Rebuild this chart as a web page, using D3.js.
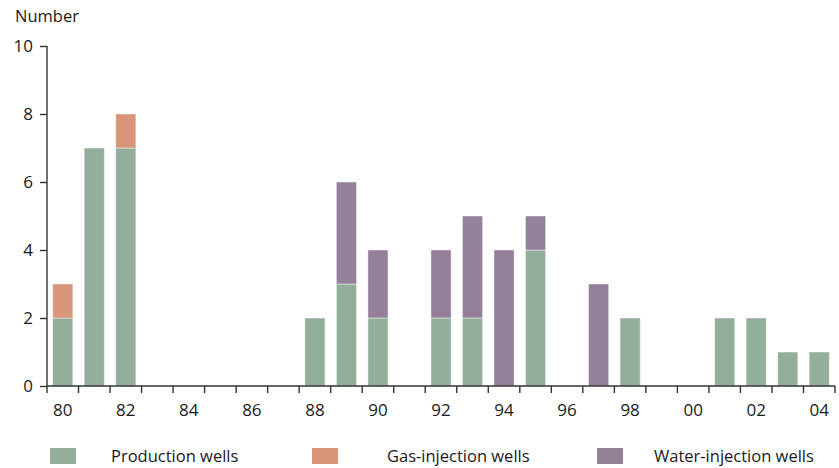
<!DOCTYPE html>
<html>
<head>
<meta charset="utf-8">
<script src="https://cdn.jsdelivr.net/npm/d3@7"></script>
<style>
  body { margin: 0; background: #fff; }
  svg text { font-family: "Open Sans", "Noto Sans", sans-serif; fill: #1a1a1a; }
</style>
</head>
<body>
<div id="chart"></div>
<script>
// years 1980..2004, labels shown every second year
var years = ["80","81","82","83","84","85","86","87","88","89","90","91","92","93","94","95","96","97","98","99","00","01","02","03","04"];
var production = [2, 7, 7, 0, 0, 0, 0, 0, 2, 3, 2, 0, 2, 2, 0, 4, 0, 0, 2, 0, 0, 2, 2, 1, 1];
var gasInjection = [1, 0, 1, 0, 0, 0, 0, 0, 0, 0, 0, 0, 0, 0, 0, 0, 0, 0, 0, 0, 0, 0, 0, 0, 0];
var waterInjection = [0, 0, 0, 0, 0, 0, 0, 0, 0, 3, 2, 0, 2, 3, 4, 1, 0, 3, 0, 0, 0, 0, 0, 0, 0];
var seriesNames = ["Production wells", "Gas-injection wells", "Water-injection wells"];
var seriesColors = ["#93af9b", "#d9957a", "#958099"];
var yTicks = [0, 2, 4, 6, 8, 10];

var width = 839, height = 468;
var plot = { left: 47, right: 835, top: 46, bottom: 386 };

var rows = years.map(function (y, i) {
    return { year: y, p: production[i], g: gasInjection[i], w: waterInjection[i] };
});
var stack = d3.stack().keys(["p", "g", "w"])(rows);

var x = d3.scaleBand().domain(years).range([plot.left, plot.right]).paddingInner(0.36).paddingOuter(0.18);
var xTicks = d3.scaleBand().domain(years).range([plot.left, plot.right]);
var y = d3.scaleLinear().domain([0, 10]).range([plot.bottom, plot.top]);

var svg = d3.select("#chart").append("svg")
    .attr("width", width)
    .attr("height", height);

svg.append("text")
    .attr("x", 15)
    .attr("y", 22)
    .attr("font-size", 16.5)
    .text("Number");

// bars
svg.append("g")
    .selectAll("g")
    .data(stack)
    .join("g")
    .attr("fill", (d, i) => seriesColors[i])
    .selectAll("rect")
    .data(d => d.filter(s => s[1] > s[0]))
    .join("rect")
    .attr("x", d => x(d.data.year))
    .attr("width", x.bandwidth())
    .attr("y", d => y(d[1]))
    .attr("height", d => y(d[0]) - y(d[1]))
    .attr("stroke", "rgba(255,255,255,0.45)")
    .attr("stroke-width", 1);

// y axis
var yAxis = svg.append("g")
    .attr("transform", "translate(" + plot.left + ",0)")
    .call(d3.axisLeft(y).tickValues(yTicks).tickSize(7).tickPadding(7).tickFormat(d3.format("d")));
yAxis.selectAll("text").attr("font-size", 17).attr("font-family", null);
yAxis.selectAll("line, path").attr("stroke", "#333").attr("stroke-width", 1.4);
yAxis.select("path").attr("d", "M0," + plot.top + "V" + plot.bottom);

// x axis: ticks at band boundaries, labels every second year
var xg = svg.append("g").attr("transform", "translate(0," + plot.bottom + ")");
xg.append("line")
    .attr("x1", plot.left).attr("x2", plot.right)
    .attr("stroke", "#333").attr("stroke-width", 1.4);
var bounds = years.map(d => xTicks(d)).concat([plot.right]);
xg.selectAll("line.tick")
    .data(bounds)
    .join("line")
    .attr("class", "tick")
    .attr("x1", d => d).attr("x2", d => d)
    .attr("y1", 0).attr("y2", 7)
    .attr("stroke", "#333").attr("stroke-width", 1.4);
xg.selectAll("text")
    .data(years.filter((d, i) => i % 2 === 0))
    .join("text")
    .attr("x", d => xTicks(d) + xTicks.bandwidth() / 2)
    .attr("y", 30)
    .attr("text-anchor", "middle")
    .attr("font-size", 17)
    .text(d => d);

// legend
var legendX = [50, 312, 597];
var legendTextX = [111, 387, 654];
var legend = svg.append("g")
    .selectAll("g")
    .data(seriesNames)
    .join("g");
legend.append("rect")
    .attr("x", (d, i) => legendX[i])
    .attr("y", 448)
    .attr("width", 26).attr("height", 16)
    .attr("fill", (d, i) => seriesColors[i]);
legend.append("text")
    .attr("x", (d, i) => legendTextX[i])
    .attr("y", 461.5)
    .attr("font-size", 16.5)
    .text(d => d);
</script>
</body>
</html>
